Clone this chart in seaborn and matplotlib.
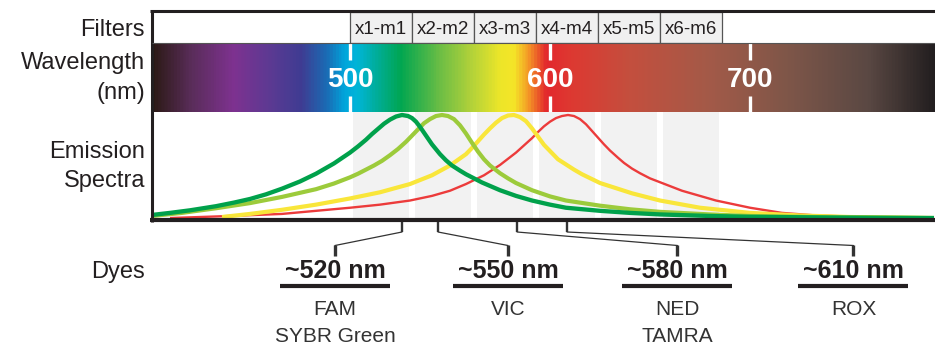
import numpy as np
import pandas as pd
import matplotlib
matplotlib.use("Agg")
import matplotlib.pyplot as plt
from matplotlib.colors import LinearSegmentedColormap
from matplotlib.patches import Rectangle
from matplotlib.lines import Line2D
import seaborn as sns

W, H = 935, 345

# ---- data ----
filter_names = ["x1-m1", "x2-m2", "x3-m3", "x4-m4", "x5-m5", "x6-m6"]
filter_edges = [500, 531, 562, 593, 624, 655, 686]
wl_ticks = [500, 600, 700]

dye_names = ["FAM", "VIC", "NED", "ROX"]
dye_peaks = [526, 544, 583.5, 608.5]
dye_labels = ["~520 nm", "~550 nm", "~580 nm", "~610 nm"]
dye_subs = [["FAM", "SYBR Green"], ["VIC"], ["NED", "TAMRA"], ["ROX"]]

fam_nm = [401, 410, 420, 433, 442, 450, 458, 466, 475, 483, 492, 500, 504, 508, 511, 514, 517, 520,
          523, 526, 529, 531, 533, 535, 538, 541, 545, 548, 551, 555, 558, 566, 575, 583, 591, 600,
          608, 625, 640, 655, 680, 700, 740, 792]
fam_i = [0.03, 0.05, 0.075, 0.115, 0.15, 0.185, 0.23, 0.285, 0.355, 0.43, 0.53, 0.635, 0.695, 0.76,
         0.815, 0.865, 0.915, 0.955, 0.985, 1.00, 0.99, 0.97, 0.935, 0.885, 0.80, 0.715, 0.62, 0.56,
         0.51, 0.46, 0.425, 0.345, 0.27, 0.215, 0.17, 0.13, 0.10, 0.07, 0.05, 0.035, 0.02, 0.012,
         0.005, 0.0]

vic_nm = [401, 416, 433, 450, 466, 483, 492, 500, 504, 508, 512, 516, 520, 524, 528, 531, 534, 537,
          540, 543, 546, 549, 552, 555, 558, 561, 564, 567, 570, 575, 579, 583, 591, 600, 608, 625,
          640, 655, 680, 700, 740, 792]
vic_i = [0.02, 0.05, 0.095, 0.145, 0.205, 0.28, 0.335, 0.395, 0.43, 0.47, 0.51, 0.555, 0.61, 0.67,
         0.74, 0.80, 0.86, 0.92, 0.96, 0.99, 1.00, 0.99, 0.96, 0.90, 0.82, 0.73, 0.645, 0.57, 0.51,
         0.435, 0.385, 0.34, 0.27, 0.21, 0.17, 0.12, 0.085, 0.06, 0.035, 0.02, 0.008, 0.0]

ned_nm = [436, 450, 466, 483, 500, 515, 530, 541, 550, 558, 561, 564, 567, 570, 573, 576, 579, 582,
          585, 588, 591, 594, 597, 601, 604, 608, 612, 616, 625, 641, 655, 675, 700, 725, 750, 792]
ned_i = [0.01, 0.04, 0.08, 0.13, 0.19, 0.25, 0.33, 0.415, 0.51, 0.62, 0.68, 0.745, 0.81, 0.87, 0.925,
         0.97, 0.995, 1.00, 0.98, 0.94, 0.87, 0.79, 0.71, 0.63, 0.57, 0.52, 0.47, 0.425, 0.34, 0.24,
         0.17, 0.10, 0.05, 0.025, 0.01, 0.0]

rox_nm = [410, 440, 466, 483, 500, 515, 530, 541, 550, 558, 567, 575, 583, 587, 591, 594, 597, 600,
          603, 606, 609, 612, 615, 618, 621, 624, 627, 630, 634, 637, 641, 645, 650, 666, 683, 700,
          716, 733, 766, 790]
rox_i = [0.0, 0.02, 0.04, 0.07, 0.10, 0.13, 0.17, 0.215, 0.265, 0.33, 0.415, 0.515, 0.635, 0.705,
         0.775, 0.835, 0.89, 0.935, 0.97, 0.99, 1.00, 0.99, 0.96, 0.91, 0.845, 0.78, 0.715, 0.655,
         0.585, 0.535, 0.48, 0.435, 0.385, 0.265, 0.17, 0.10, 0.05, 0.025, 0.005, 0.0]

# ---- styling ----
sns.set_style("white")
plt.rcParams["font.family"] = ["Liberation Sans", "DejaVu Sans"]
INK = "#231F20"
XMIN, XMAX = 401, 792.5

dye_colors = {"FAM": "#00A14B", "VIC": "#9CCB3B", "NED": "#F9E63A", "ROX": "#EC3B3B"}
dye_widths = {"FAM": 3.1, "VIC": 3.0, "NED": 3.0, "ROX": 1.7}

spectrum_stops = [(401, "#2C1A16"), (420, "#5A2D5A"), (441, "#7E3290"), (460, "#5B3A93"),
                  (475, "#3F3C92"), (488, "#1A6CB5"), (497, "#00A6DC"), (503, "#00B5D8"),
                  (512, "#00AEA0"), (525, "#00A651"), (545, "#6DBE45"), (560, "#B0D13A"),
                  (575, "#EDE629"), (582, "#F5E528"), (590, "#F39026"), (598, "#E3272D"),
                  (610, "#DE3831"), (640, "#C44F3E"), (680, "#A35A48"), (720, "#7E5649"),
                  (760, "#5A4843"), (792.5, "#231F20")]
cmap = LinearSegmentedColormap.from_list(
    "spec", [((n - XMIN) / (XMAX - XMIN), c) for n, c in spectrum_stops])


def box(x0, y0, x1, y1):
    return [x0 / W, 1 - y1 / H, (x1 - x0) / W, (y1 - y0) / H]


fig = plt.figure(figsize=(W / 100, H / 100), dpi=100)

ax_f = fig.add_axes(box(152, 12, 935, 43))
ax_w = fig.add_axes(box(152, 43, 935, 112))
ax_e = fig.add_axes(box(152, 112, 935, 220))
ax_d = fig.add_axes(box(152, 220, 935, 345))
for ax in (ax_f, ax_w, ax_e, ax_d):
    ax.set_xlim(XMIN, XMAX)
    ax.set_axis_off()

# filters row
ax_f.set_ylim(0, 1)
for i, name in enumerate(filter_names):
    x0, x1 = filter_edges[i], filter_edges[i + 1]
    ax_f.add_patch(Rectangle((x0, 0), x1 - x0, 1, facecolor="#F0F0F0",
                             edgecolor="#555555", lw=0.9))
    ax_f.text((x0 + x1) / 2, 0.42, name, ha="center", va="center", fontsize=13.5, color=INK)

# wavelength bar
ax_w.set_ylim(0, 1)
grad = np.linspace(XMIN, XMAX, 1000)[None, :]
ax_w.imshow(grad, extent=(XMIN, XMAX, 0, 1), aspect="auto", cmap=cmap,
            vmin=XMIN, vmax=XMAX, interpolation="bilinear")
for t in wl_ticks:
    ax_w.plot([t, t], [1, 0.75], color="white", lw=2.4, solid_capstyle="butt")
    ax_w.plot([t, t], [0, 0.23], color="white", lw=2.4, solid_capstyle="butt")
    ax_w.text(t, 0.36, str(t), ha="center", va="baseline", fontsize=20,
              fontweight="bold", color="white")

# emission spectra
ax_e.set_ylim(-0.019, 1.029)
for i in range(len(filter_names)):
    ax_e.axvspan(filter_edges[i] + 1.3, filter_edges[i + 1] - 1.3, color="#F2F2F2", lw=0, zorder=0)

spectra = pd.concat([
    pd.DataFrame({"nm": fam_nm, "intensity": fam_i, "dye": "FAM"}),
    pd.DataFrame({"nm": vic_nm, "intensity": vic_i, "dye": "VIC"}),
    pd.DataFrame({"nm": ned_nm, "intensity": ned_i, "dye": "NED"}),
    pd.DataFrame({"nm": rox_nm, "intensity": rox_i, "dye": "ROX"}),
], ignore_index=True)

order = ["ROX", "NED", "VIC", "FAM"]
sns.lineplot(data=spectra, x="nm", y="intensity", hue="dye", hue_order=order,
             palette=dye_colors, size="dye", size_order=order, sizes=dye_widths,
             estimator=None, legend=False, ax=ax_e)
for ln in ax_e.get_lines():
    ln.set_solid_capstyle("butt")
    ln.set_solid_joinstyle("round")
ax_e.set_xlim(XMIN, XMAX)
ax_e.set_axis_off()

# frame
for (x0, y0, x1, y1, lw) in [(150, 11, 935, 11, 2.2), (151.5, 10, 151.5, 222, 2.2),
                             (150, 220, 935, 220, 3.0), (152, 43, 935, 43, 0.8)]:
    fig.add_artist(Line2D([x0 / W, x1 / W], [1 - y0 / H, 1 - y1 / H], color=INK if lw > 1 else "#555555",
                          lw=lw, transform=fig.transFigure, solid_capstyle="butt"))

# dye connectors and labels
ax_d.set_ylim(345, 220)
label_pos = [492.5, 579, 663.75, 751.75]
for peak, lx, lab, subs in zip(dye_peaks, label_pos, dye_labels, dye_subs):
    ax_d.plot([peak, peak], [221, 232], color="#333333", lw=1.7, solid_capstyle="butt")
    ax_d.plot([peak, lx], [232, 245.5], color="#333333", lw=0.9)
    ax_d.plot([lx, lx], [245, 256], color="#333333", lw=2.4, solid_capstyle="butt")
    ax_d.text(lx, 278, lab, ha="center", va="baseline", fontsize=18, fontweight="bold", color=INK)
    ax_d.plot([lx - 27.5, lx + 27.5], [286, 286], color=INK, lw=3.0, solid_capstyle="butt")
    for k, s in enumerate(subs):
        ax_d.text(lx, 315 + 27 * k, s, ha="center", va="baseline", fontsize=15, color="#333333")

# row labels
for txt, yb in [("Filters", 36), ("Wavelength", 68.5), ("(nm)", 99.5), ("Emission", 157.5),
                ("Spectra", 187), ("Dyes", 278)]:
    fig.text(145 / W, 1 - yb / H, txt, ha="right", va="baseline", fontsize=17, color=INK)

fig.savefig("out.png", dpi=100)
